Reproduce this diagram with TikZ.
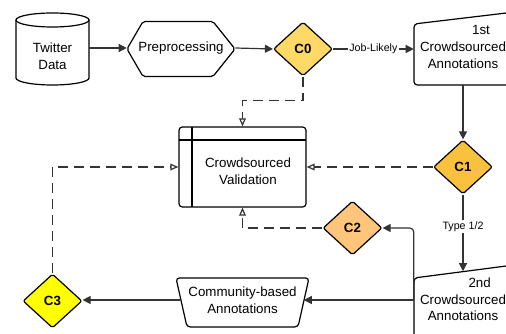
\documentclass[tikz,border=0pt]{standalone}
\usepackage{fontspec}
\setmainfont{Liberation Sans}
\usetikzlibrary{shapes.geometric,arrows.meta}
\definecolor{czero}{RGB}{255,217,102}
\definecolor{cone}{RGB}{250,193,60}
\definecolor{ctwo}{RGB}{255,197,122}
\definecolor{cthree}{RGB}{255,255,0}
\definecolor{conn}{RGB}{51,51,51}
\tikzset{
  shapeline/.style={draw=black, line width=0.9pt, rounded corners=2.5pt},
  txt/.style={inner sep=0pt, align=center, font=\fontsize{10}{12.4}\selectfont},
  decision/.style={diamond, draw=black, line width=0.9pt, rounded corners=1.5pt, inner sep=0pt,
     minimum width=44.25pt, minimum height=40.5pt, font=\fontsize{10}{12}\selectfont\bfseries},
  arr/.style={draw=conn, line width=0.9pt, -{Triangle[length=6pt,width=6pt]}},
  dsh/.style={draw=conn, line width=0.9pt, dash pattern=on 7.5pt off 4.5pt, -{Triangle[open,length=6pt,width=5pt,fill=white]}},
  lbl/.style={fill=white, inner sep=1pt, font=\fontsize{8}{9}\selectfont},
}
\begin{document}
\begin{tikzpicture}[x=0.75pt,y=-0.75pt]
\useasboundingbox (0,0) rectangle (506,334);
\clip (0,0) rectangle (506,334);
% Twitter Data cylinder
\draw[line width=0.9pt, fill=white] (16,20) -- (16,78) arc[start angle=180,end angle=360,x radius=27.375pt,y radius=5.25pt] -- (89,20);
\draw[line width=0.9pt] (52.5,20) ellipse[x radius=27.375pt,y radius=5.25pt];
\node[txt, minimum width=54.75pt] (tw) at (52.5,56.5) {Twitter\\Data};
% Preprocessing hexagon
\draw[shapeline, rounded corners=1.5pt] (127,49) -- (143,21.5) -- (213,21.5) -- (235,49) -- (213,76.5) -- (143,76.5) -- cycle;
\node[txt, minimum width=81pt] (pre) at (181,48) {Preprocessing};
% C0
\node[decision, fill=czero] (c0) at (303,49) {C0};
% 1st Crowdsourced Annotations
\draw[shapeline] (540,9) -- (414,24) -- (414,85) -- (540,85);
\node[txt, minimum width=73.5pt, minimum height=57pt] (b1) at (463,47) {\hspace*{27pt}1st\\Crowdsourced\\Annotations};
% C1
\node[decision, fill=cone] (c1) at (463,167) {C1};
% Crowdsourced Validation
\node[draw=black, line width=0.9pt, rounded corners=2.5pt, minimum width=95.25pt, minimum height=60pt, inner sep=0pt] (val) at (242.5,167) {};
\draw[line width=0.9pt] (179,140) -- (306,140);
\draw[line width=0.9pt] (192,127) -- (192,207);
\node[txt] (valtxt) at (248,171) {Crowdsourced\\Validation};
% 2nd Crowdsourced Annotations
\draw[shapeline] (540,261.6) -- (414,278) -- (414,345) -- (540,345);
\node[txt, minimum width=73.5pt, minimum height=42pt] (b2) at (463,299.5) {\hspace*{25pt}2nd\\Crowdsourced\\Annotations};
% C2
\node[decision, fill=ctwo] (c2) at (352.5,228) {C2};
% Community-based Annotations
\draw[shapeline] (176,278) -- (309,278) -- (298,327) -- (187,327) -- cycle;
\node[txt, minimum width=91.5pt] (comm) at (242.5,300) {Community-based\\Annotations};
% C3
\node[decision, fill=cthree] (c3) at (52.5,301) {C3};
% connectors
\draw[arr] (pre.west -| tw.east) -- (pre.west);
\draw[arr] (pre.east) -- (c0.west);
\draw[arr] (c0.east) -- node[lbl] {Job-Likely} (c0.east -| b1.west);
\draw[arr] (b1.south) -- (c1.north);
\draw[arr] (c1.south) -- node[lbl, pos=0.42] {Type 1/2} (b2.north);
\draw[arr, rounded corners=3pt] (b2.west) |- (c2.east);
\draw[arr] (comm.east -| b2.west) -- (comm.east);
\draw[arr] (comm.west) -- (comm.west -| c3.east);
\draw[dsh] (c0.south) -- ++(0,24) -| (val.north);
\draw[dsh] (c1.west) -- (val.east);
\draw[dsh] (c2.west) -| (val.south);
\draw[dsh] (c3.north) |- (val.west);
\end{tikzpicture}
\end{document}
